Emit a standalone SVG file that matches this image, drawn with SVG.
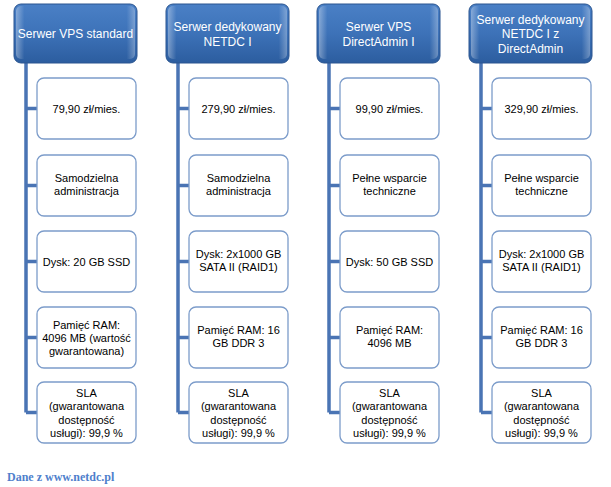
<svg xmlns="http://www.w3.org/2000/svg" width="611" height="487" viewBox="0 0 611 487">
<defs>
<linearGradient id="hg" x1="0" y1="0" x2="0" y2="1">
<stop offset="0" stop-color="#4a80c6"/>
<stop offset="0.5" stop-color="#3d72b8"/>
<stop offset="1" stop-color="#2c5d9f"/>
</linearGradient>
<linearGradient id="hh" x1="0" y1="0" x2="1" y2="0">
<stop offset="0" stop-color="#ffffff" stop-opacity="0.35"/>
<stop offset="0.07" stop-color="#ffffff" stop-opacity="0"/>
<stop offset="0.93" stop-color="#ffffff" stop-opacity="0"/>
<stop offset="1" stop-color="#ffffff" stop-opacity="0.3"/>
</linearGradient>
<style>
.hd{fill:url(#hg);stroke:#2a5590;stroke-width:1}
.hl{fill:url(#hh)}
.ht{font-family:"Liberation Sans",Arial,sans-serif;font-size:12px;fill:#ffffff;text-anchor:middle}
.bx{fill:#ffffff;stroke:#7c9cca;stroke-width:1.3}
.bt{font-family:"Liberation Sans",Arial,sans-serif;font-size:11px;fill:#000000;text-anchor:middle}
.cn{stroke:#4a74b4;stroke-width:3.5;fill:none}
.ft{font-family:"Liberation Serif","Times New Roman",serif;font-size:12px;font-weight:bold;fill:#4f7fcc}
</style>
</defs>
<rect width="611" height="487" fill="#ffffff"/>
<g id="connectors">
<path class="cn" d="M26,63V412.5M26,108.5H37M26,185.5H37M26,261.5H37M26,337.5H37M26,412.5H37"/>
<path class="cn" d="M178,63V412.5M178,108.5H189M178,185.5H189M178,261.5H189M178,337.5H189M178,412.5H189"/>
<path class="cn" d="M329,63V412.5M329,108.5H340M329,185.5H340M329,261.5H340M329,337.5H340M329,412.5H340"/>
<path class="cn" d="M481,63V412.5M481,108.5H492M481,185.5H492M481,261.5H492M481,337.5H492M481,412.5H492"/>
</g>
<g id="h1">
<rect class="hd" x="14" y="4" width="123" height="59" rx="7"/>
<rect class="hl" x="16" y="6" width="119" height="53" rx="5"/>
<text class="ht" x="75.5" y="37.5">Serwer VPS standard</text>
</g>
<g id="h2">
<rect class="hd" x="166" y="4" width="123" height="59" rx="7"/>
<rect class="hl" x="168" y="6" width="119" height="53" rx="5"/>
<text class="ht" x="227.5" y="31">Serwer dedykowany</text>
<text class="ht" x="227.5" y="46">NETDC I</text>
</g>
<g id="h3">
<rect class="hd" x="317" y="4" width="123" height="59" rx="7"/>
<rect class="hl" x="319" y="6" width="119" height="53" rx="5"/>
<text class="ht" x="378.5" y="31">Serwer VPS</text>
<text class="ht" x="378.5" y="46">DirectAdmin I</text>
</g>
<g id="h4">
<rect class="hd" x="469" y="4" width="123" height="59" rx="7"/>
<rect class="hl" x="471" y="6" width="119" height="53" rx="5"/>
<text class="ht" x="530.5" y="23.5">Serwer dedykowany</text>
<text class="ht" x="530.5" y="38">NETDC I z</text>
<text class="ht" x="530.5" y="52.5">DirectAdmin</text>
</g>

<g id="c1r1"><rect class="bx" x="37" y="78" width="99" height="61" rx="7"/><text class="bt" x="86.5" y="112.5">79,90 zł/mies.</text></g>
<g id="c1r2"><rect class="bx" x="37" y="155" width="99" height="61" rx="7"/><text class="bt" x="86.5" y="182">Samodzielna</text><text class="bt" x="86.5" y="195.3">administracja</text></g>
<g id="c1r3"><rect class="bx" x="37" y="231" width="99" height="61" rx="7"/><text class="bt" x="86.5" y="265.5">Dysk: 20 GB SSD</text></g>
<g id="c1r4"><rect class="bx" x="37" y="307" width="99" height="61" rx="7"/><text class="bt" x="86.5" y="328.5">Pamięć RAM:</text><text class="bt" x="86.5" y="341.8">4096 MB (wartość</text><text class="bt" x="86.5" y="355.1">gwarantowana)</text></g>
<g id="c1r5"><rect class="bx" x="37" y="382" width="99" height="61" rx="7"/><text class="bt" x="86.5" y="397">SLA</text><text class="bt" x="86.5" y="410.3">(gwarantowana</text><text class="bt" x="86.5" y="423.6">dostępność</text><text class="bt" x="86.5" y="436.9">usługi): 99,9 %</text></g>

<g id="c2r1"><rect class="bx" x="189" y="78" width="99" height="61" rx="7"/><text class="bt" x="238.5" y="112.5">279,90 zł/mies.</text></g>
<g id="c2r2"><rect class="bx" x="189" y="155" width="99" height="61" rx="7"/><text class="bt" x="238.5" y="182">Samodzielna</text><text class="bt" x="238.5" y="195.3">administracja</text></g>
<g id="c2r3"><rect class="bx" x="189" y="231" width="99" height="61" rx="7"/><text class="bt" x="238.5" y="258">Dysk: 2x1000 GB</text><text class="bt" x="238.5" y="271.3">SATA II (RAID1)</text></g>
<g id="c2r4"><rect class="bx" x="189" y="307" width="99" height="61" rx="7"/><text class="bt" x="238.5" y="334">Pamięć RAM: 16</text><text class="bt" x="238.5" y="347.3">GB DDR 3</text></g>
<g id="c2r5"><rect class="bx" x="189" y="382" width="99" height="61" rx="7"/><text class="bt" x="238.5" y="397">SLA</text><text class="bt" x="238.5" y="410.3">(gwarantowana</text><text class="bt" x="238.5" y="423.6">dostępność</text><text class="bt" x="238.5" y="436.9">usługi): 99,9 %</text></g>

<g id="c3r1"><rect class="bx" x="340" y="78" width="99" height="61" rx="7"/><text class="bt" x="389.5" y="112.5">99,90 zł/mies.</text></g>
<g id="c3r2"><rect class="bx" x="340" y="155" width="99" height="61" rx="7"/><text class="bt" x="389.5" y="182">Pełne wsparcie</text><text class="bt" x="389.5" y="195.3">techniczne</text></g>
<g id="c3r3"><rect class="bx" x="340" y="231" width="99" height="61" rx="7"/><text class="bt" x="389.5" y="265.5">Dysk: 50 GB SSD</text></g>
<g id="c3r4"><rect class="bx" x="340" y="307" width="99" height="61" rx="7"/><text class="bt" x="389.5" y="334">Pamięć RAM:</text><text class="bt" x="389.5" y="347.3">4096 MB</text></g>
<g id="c3r5"><rect class="bx" x="340" y="382" width="99" height="61" rx="7"/><text class="bt" x="389.5" y="397">SLA</text><text class="bt" x="389.5" y="410.3">(gwarantowana</text><text class="bt" x="389.5" y="423.6">dostępność</text><text class="bt" x="389.5" y="436.9">usługi): 99,9 %</text></g>

<g id="c4r1"><rect class="bx" x="492" y="78" width="99" height="61" rx="7"/><text class="bt" x="541.5" y="112.5">329,90 zł/mies.</text></g>
<g id="c4r2"><rect class="bx" x="492" y="155" width="99" height="61" rx="7"/><text class="bt" x="541.5" y="182">Pełne wsparcie</text><text class="bt" x="541.5" y="195.3">techniczne</text></g>
<g id="c4r3"><rect class="bx" x="492" y="231" width="99" height="61" rx="7"/><text class="bt" x="541.5" y="258">Dysk: 2x1000 GB</text><text class="bt" x="541.5" y="271.3">SATA II (RAID1)</text></g>
<g id="c4r4"><rect class="bx" x="492" y="307" width="99" height="61" rx="7"/><text class="bt" x="541.5" y="334">Pamięć RAM: 16</text><text class="bt" x="541.5" y="347.3">GB DDR 3</text></g>
<g id="c4r5"><rect class="bx" x="492" y="382" width="99" height="61" rx="7"/><text class="bt" x="541.5" y="397">SLA</text><text class="bt" x="541.5" y="410.3">(gwarantowana</text><text class="bt" x="541.5" y="423.6">dostępność</text><text class="bt" x="541.5" y="436.9">usługi): 99,9 %</text></g>

<text class="ft" x="7" y="480.5">Dane z www.netdc.pl</text>
</svg>
